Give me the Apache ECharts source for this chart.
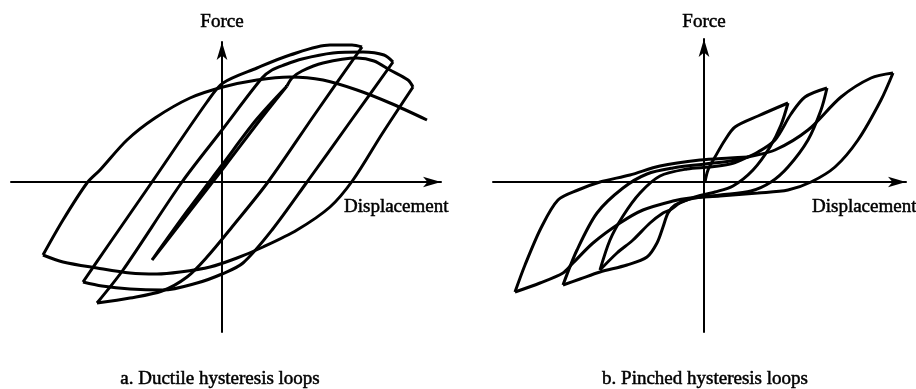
<!DOCTYPE html>
<html>
<head>
<meta charset="utf-8">
<script src="https://cdn.jsdelivr.net/npm/echarts@6/dist/echarts.min.js"></script>
<style>
  html, body { margin: 0; padding: 0; background: #fff; }
  #chart { width: 916px; height: 389px; }
</style>
</head>
<body>
<div id="chart"></div>
<script>
// 每条曲线为 [位移, 力]，单位为示意值
// a. 延性滞回环
const ductileElastic = [[-70,-78],[-32,-29],[3,16],[38,62],[65,96],[34,62],[0,17],[-34,-28],[-70,-78]];
const ductileLoadC = [[65,96],[70,104],[80,111],[101,119],[135,124],[152,121],[168,112],[186,102],[191,95]];
const ductileUnloadC = [[191,95],[160,48],[131,2],[108,-25],[75,-48],[41,-65],[15,-76],[-12,-85],[-42,-90],[-65,-92],[-92,-91],[-125,-86],[-159,-80],[-179,-73]];
const ductileReloadL2 = [[-139,-100],[-115,-65],[-70,0],[-15,80],[1,99],[35,114],[68,127],[108,137],[130,137],[140,135]];
const ductileUnloadA = [[140,135],[93,68],[46,0],[10,-45],[-15,-75],[-35,-95],[-60,-109],[-92,-116],[-125,-121]];
const ductileReloadL3 = [[-125,-121],[-99,-88],[-40,0],[0,52],[40,104],[50,112],[62,117],[80,123],[111,129],[141,130],[162,127],[171,120]];
const ductileUnloadB = [[171,120],[128,60],[85,0],[50,-48],[21,-81],[0,-92],[-25,-101],[-59,-108],[-92,-107],[-120,-104],[-139,-100]];
const ductileReloadL1 = [[-179,-73],[-159,-38],[-135,-1],[-122,12],[-95,42],[-67,64],[-32,84],[1,95],[35,102],[68,105],[101,102],[135,92],[168,79],[205,62]];

// b. 捏缩滞回环
const pinchedLoad1 = [[1,0],[4,12],[11,25],[21,42],[31,55],[54,66],[84,79]];
const pinchedUnload1 = [[84,79],[77,57],[66,35],[49,12],[29,-4],[11,-10],[-9,-15],[-24,-21],[-34,-28],[-41,-31],[-54,-41],[-71,-58],[-87,-71],[-104,-88]];
const pinchedReload2 = [[-104,-88],[-94,-58],[-81,-34],[-64,-11],[-44,6],[-17,13],[6,15],[26,18],[37,22],[54,30],[71,42],[87,68],[101,85],[123,94]];
const pinchedUnload2 = [[123,94],[117,72],[104,42],[84,15],[67,0],[47,-9],[16,-13],[-14,-17],[-29,-23],[-36,-31],[-41,-45],[-47,-61],[-57,-75],[-77,-83],[-104,-90],[-124,-97],[-141,-103]];
const pinchedReload3 = [[-141,-103],[-127,-68],[-107,-31],[-81,-6],[-57,8],[-31,14],[1,18],[26,21],[44,25],[71,32],[104,52],[137,85],[167,104],[189,109]];
const pinchedUnload3 = [[189,109],[177,82],[154,42],[131,15],[107,0],[84,-8],[54,-11],[16,-14],[-14,-16],[-31,-19],[-61,-28],[-84,-41],[-111,-61],[-131,-81],[-141,-91],[-164,-101],[-189,-110]];
const pinchedReload4 = [[-189,-110],[-179,-83],[-163,-46],[-146,-18],[-126,-8],[-104,0],[-74,7],[-44,16],[-4,22],[26,24],[44,25]];

const axisTitles = ['Force', 'Displacement'];
const captions = ['a. Ductile hysteresis loops', 'b. Pinched hysteresis loops'];

const ductileCurves = [ductileElastic, ductileLoadC, ductileUnloadC, ductileReloadL2, ductileUnloadA, ductileReloadL3, ductileUnloadB, ductileReloadL1];
const pinchedCurves = [pinchedLoad1, pinchedUnload1, pinchedReload2, pinchedUnload2, pinchedReload3, pinchedUnload3, pinchedReload4];

const chart = echarts.init(document.getElementById('chart'));
const FONT = '19px "Liberation Serif"';

// 坐标轴：只画带箭头的轴线
function makeAxis(gridIndex, min, max) {
  return {
    type: 'value',
    gridIndex: gridIndex,
    min: min,
    max: max,
    axisLine: {
      show: true,
      onZero: true,
      symbol: ['none', 'arrow'],
      symbolSize: [8, 18],
      lineStyle: { color: '#000', width: 2 }
    },
    axisTick: { show: false },
    axisLabel: { show: false },
    splitLine: { show: false }
  };
}

function makeSeries(data, idx) {
  return {
    type: 'line',
    xAxisIndex: idx,
    yAxisIndex: idx,
    data: data,
    smooth: 0.3,
    showSymbol: false,
    symbol: 'none',
    lineStyle: { color: '#000', width: 3 },
    animation: false
  };
}

function label(text, x, y, align) {
  return {
    type: 'text', x: x, y: y,
    style: {
      text: text, font: FONT, fill: '#000',
      stroke: '#000', lineWidth: 0.5,
      textAlign: align, textVerticalAlign: 'middle'
    }
  };
}

const series = [];
ductileCurves.forEach(c => series.push(makeSeries(c, 0)));
pinchedCurves.forEach(c => series.push(makeSeries(c, 1)));

const option = {
  animation: false,
  backgroundColor: '#fff',
  grid: [
    { left: 11, top: 42, width: 430, height: 290 },
    { left: 493, top: 39, width: 413, height: 293 }
  ],
  xAxis: [makeAxis(0, -211, 219), makeAxis(1, -211, 202)],
  yAxis: [makeAxis(0, -150, 140), makeAxis(1, -150, 143)],
  series: series,
  graphic: [
    label(axisTitles[0], 222, 22, 'center'),
    label(axisTitles[1], 344, 207, 'left'),
    label(axisTitles[0], 704, 22, 'center'),
    label(axisTitles[1], 812, 207, 'left'),
    label(captions[0], 220, 379, 'center'),
    label(captions[1], 705, 379, 'center')
  ]
};

chart.setOption(option);
</script>
</body>
</html>
